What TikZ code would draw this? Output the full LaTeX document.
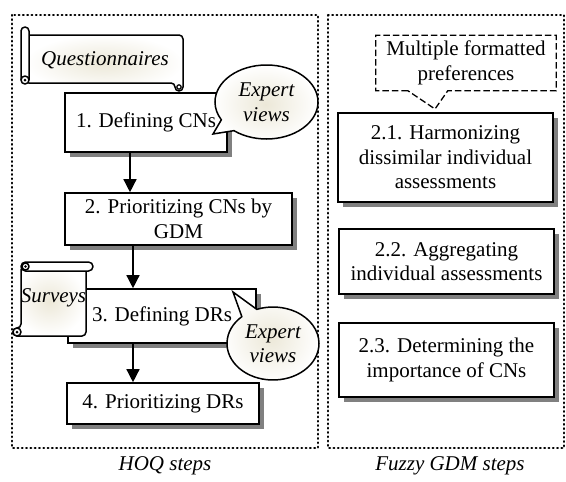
\documentclass[tikz,border=0pt]{standalone}
\usepackage{fontspec}
\setmainfont{Liberation Serif}
\usetikzlibrary{shapes.callouts,arrows.meta,shadows,calc}
\definecolor{beige}{RGB}{236,232,216}
\begin{document}
\begin{tikzpicture}[x=1pt,y=-1pt,
  txt/.style={font=\fontsize{21}{24.5}\selectfont, align=center, inner sep=0pt},
  itx/.style={txt, font=\fontsize{21}{24.5}\selectfont\itshape},
  box/.style={txt, draw, line width=1.6pt, fill=white,
    drop shadow={shadow xshift=5pt, shadow yshift=-5pt, fill=black!50, opacity=1}},
  arr/.style={line width=1.4pt, -{Triangle[length=13pt,width=13pt]}},
  ex/.style={itx, shape=ellipse callout, draw, line width=1.5pt,
    inner color=beige, outer color=white, callout pointer arc=22},
  dotframe/.style={line width=2.3pt, line cap=round, dash pattern=on 0.7pt off 3.6pt},
  dashline/.style={line width=1.3pt, dash pattern=on 6.5pt off 3pt},
  scrollline/.style={draw, line width=1.5pt, line join=round},
  scrollshade/.style={scrollline, inner color=beige, outer color=white},
]
\useasboundingbox (0,0) rectangle (566,482);

% frames
\draw[dotframe] (12,15) rectangle (318,448);
\draw[dotframe] (328,15) rectangle (564,448);

% HOQ boxes
\node[box, minimum width=162pt, minimum height=59pt] (b1) at (146,122.5) {1. Defining CNs};
\node[box, minimum width=227pt, minimum height=52pt] (b2) at (178.5,219) {2. Prioritizing CNs by\\GDM};
\node[box, minimum width=188pt, minimum height=54pt] (b3) at (162,316) {3. Defining DRs};
\node[box, minimum width=192pt, minimum height=41pt] (b4) at (163,403.5) {4. Prioritizing DRs};

\draw[arr] ([xshift=-16pt]b1.south) -- ([xshift=-16pt]b1.south |- b2.north);
\draw[arr] ([xshift=-45.5pt]b2.south) -- ([xshift=-45.5pt]b2.south |- b3.north);
\draw[arr] ([xshift=-29pt]b3.south) -- ([xshift=-29pt]b3.south |- b4.north);

% Fuzzy GDM boxes
\node[box, minimum width=215pt, minimum height=89pt] (g1) at (445.5,157.5) {2.1. Harmonizing\\dissimilar individual\\assessments};
\node[box, minimum width=215pt, minimum height=65pt] (g2) at (446.5,261.5) {2.2. Aggregating\\individual assessments};
\node[box, minimum width=215pt, minimum height=74pt] (g3) at (446.5,360) {2.3. Determining the\\importance of CNs};

% dashed callout
\node[txt, minimum width=180pt, minimum height=55pt] (mfp) at (466,63) {Multiple formatted\\preferences};
\coordinate (mtip) at (435,109);
\draw[dashline] ($(mfp.south west)+(32,0)$) -- (mfp.south west) -- (mfp.north west) -- (mfp.north east) -- (mfp.south east) -- ($(mfp.south west)+(72,0)$) -- (mtip) -- cycle;

% expert callouts
\node[ex, minimum width=103pt, minimum height=74pt, callout absolute pointer={(213,134)}] (e1) at (266.5,102) {Expert\\views};
\node[ex, minimum width=92pt, minimum height=73pt, callout absolute pointer={(233,292)}] (e2) at (273,343.5) {Expert\\views};

% Questionnaires scroll
\path[scrollshade, rounded corners=4pt] (25,35) -- (183,35) -- (183,91) -- (175,91) -- (175,83) -- (25,83) -- cycle;
\draw[line width=1.2pt] (179,87) circle (2.2pt);
\path[scrollline, fill=white, rounded corners=4pt] (21,80) -- (21,27) -- (29,27) -- (29,80);
\path[scrollline, fill=white] (25,80) circle (4pt);
\fill (25,80) circle (1.5pt);
\node[itx] (q) at (105,60) {Questionnaires};

% Surveys scroll
\path[scrollshade, rounded corners=4pt] (21,266) -- (86,266) -- (86,336) -- (13,336) -- (13,328) -- (21,328) -- cycle;
\path[scrollline, fill=white] (17,332) circle (4pt);
\fill (17,332) circle (1.5pt);
\path[scrollline, fill=white, rounded corners=4.5pt] (21,262) rectangle (93,271);
\path[scrollline, fill=white] (25.5,266.5) circle (3.5pt);
\fill (25.5,266.5) circle (1.3pt);
\node[itx] (s) at (53.5,298) {Surveys};

% bottom labels
\node[itx] (hoq) at (165,466) {HOQ steps};
\node[itx] (fgdm) at (450,466) {Fuzzy GDM steps};
\end{tikzpicture}
\end{document}
